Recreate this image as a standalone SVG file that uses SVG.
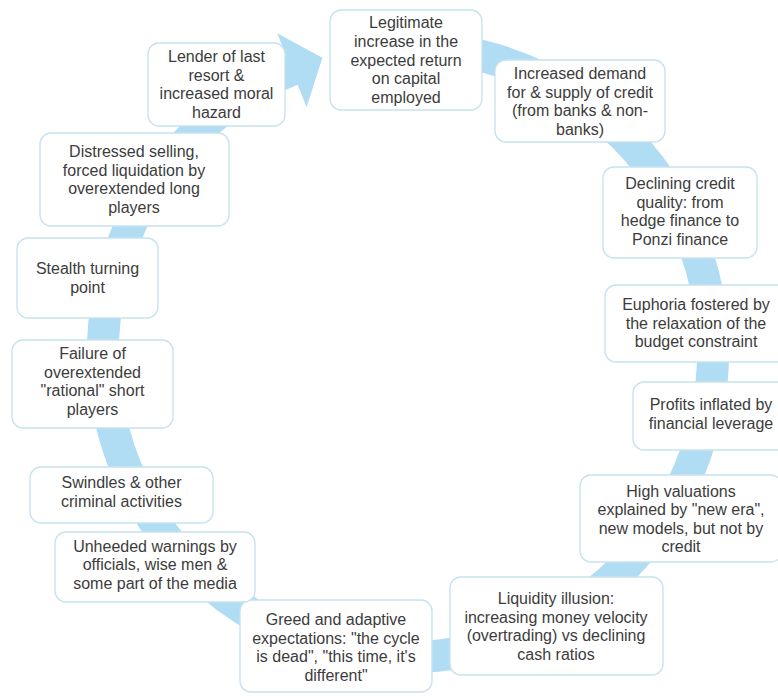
<svg xmlns="http://www.w3.org/2000/svg" width="778" height="696" viewBox="0 0 778 696">
<style>
.box{fill:#ffffff;stroke:#c6e2ee;stroke-width:1.3}
.t{font-family:"Liberation Sans",Arial,sans-serif;font-size:16px;fill:#3c3c3c;text-anchor:middle}
.band{fill:none;stroke:#b0dcf4;stroke-width:32}
.head{fill:#b0dcf4}
</style>
<rect width="778" height="696" fill="#ffffff"/>
<g id="connectors">
<path class="band" d="M 408 47 A 305 305 0 1 1 292.3 69.8"/>
<polygon class="head" points="277.2,33.2 322.4,57.7 306.6,107.2"/>
</g>
<g id="n1"><rect class="box" x="330" y="10" width="152" height="100" rx="11"/>
<text class="t"><tspan x="406" y="28">Legitimate</tspan><tspan x="406" y="46.8">increase in the</tspan><tspan x="406" y="65.5">expected return</tspan><tspan x="406" y="84.3">on capital</tspan><tspan x="406" y="103">employed</tspan></text></g>
<g id="n2"><rect class="box" x="495" y="60" width="170" height="82" rx="11"/>
<text class="t"><tspan x="580" y="79">Increased demand</tspan><tspan x="580" y="97.5">for &amp; supply of credit</tspan><tspan x="580" y="116">(from banks &amp; non-</tspan><tspan x="580" y="134.5">banks)</tspan></text></g>
<g id="n3"><rect class="box" x="603" y="167" width="154" height="91" rx="11"/>
<text class="t"><tspan x="680" y="189">Declining credit</tspan><tspan x="680" y="207.5">quality: from</tspan><tspan x="680" y="226">hedge finance to</tspan><tspan x="680" y="244.5">Ponzi finance</tspan></text></g>
<g id="n4"><rect class="box" x="605" y="285" width="185" height="77" rx="11"/>
<text class="t"><tspan x="696" y="310">Euphoria fostered by</tspan><tspan x="696" y="328.5">the relaxation of the</tspan><tspan x="696" y="347">budget constraint</tspan></text></g>
<g id="n5"><rect class="box" x="633" y="382" width="160" height="68" rx="11"/>
<text class="t"><tspan x="711" y="410">Profits inflated by</tspan><tspan x="711" y="429">financial leverage</tspan></text></g>
<g id="n6"><rect class="box" x="580" y="475" width="202" height="87" rx="11"/>
<text class="t"><tspan x="681" y="496.5">High valuations</tspan><tspan x="681" y="515">explained by "new era",</tspan><tspan x="681" y="533.5">new models, but not by</tspan><tspan x="681" y="552">credit</tspan></text></g>
<g id="n7"><rect class="box" x="450" y="577" width="213" height="98" rx="11"/>
<text class="t"><tspan x="556" y="604">Liquidity illusion:</tspan><tspan x="556" y="622.5">increasing money velocity</tspan><tspan x="556" y="641">(overtrading) vs declining</tspan><tspan x="556" y="659.5">cash ratios</tspan></text></g>
<g id="n8"><rect class="box" x="240" y="600" width="192" height="92" rx="11"/>
<text class="t"><tspan x="336" y="625">Greed and adaptive</tspan><tspan x="336" y="643.5">expectations: "the cycle</tspan><tspan x="336" y="662">is dead", "this time, it's</tspan><tspan x="336" y="680.5">different"</tspan></text></g>
<g id="n9"><rect class="box" x="55" y="532" width="200" height="70" rx="11"/>
<text class="t"><tspan x="155" y="551.5">Unheeded warnings by</tspan><tspan x="155" y="570">officials, wise men &amp;</tspan><tspan x="155" y="588.5">some part of the media</tspan></text></g>
<g id="n10"><rect class="box" x="30" y="467" width="183" height="56" rx="11"/>
<text class="t"><tspan x="121.5" y="488">Swindles &amp; other</tspan><tspan x="121.5" y="507">criminal activities</tspan></text></g>
<g id="n11"><rect class="box" x="12" y="340" width="161" height="88" rx="11"/>
<text class="t"><tspan x="92.5" y="359">Failure of</tspan><tspan x="92.5" y="377.5">overextended</tspan><tspan x="92.5" y="396">"rational" short</tspan><tspan x="92.5" y="414.5">players</tspan></text></g>
<g id="n12"><rect class="box" x="17" y="238" width="141" height="80" rx="11"/>
<text class="t"><tspan x="87.5" y="274">Stealth turning</tspan><tspan x="87.5" y="293">point</tspan></text></g>
<g id="n13"><rect class="box" x="40" y="133" width="189" height="93" rx="11"/>
<text class="t"><tspan x="134" y="157">Distressed selling,</tspan><tspan x="134" y="175.5">forced liquidation by</tspan><tspan x="134" y="194">overextended long</tspan><tspan x="134" y="212.5">players</tspan></text></g>
<g id="n14"><rect class="box" x="148" y="43" width="137" height="83" rx="11"/>
<text class="t"><tspan x="216.5" y="62">Lender of last</tspan><tspan x="216.5" y="80.5">resort &amp;</tspan><tspan x="216.5" y="99">increased moral</tspan><tspan x="216.5" y="117.5">hazard</tspan></text></g>
</svg>
